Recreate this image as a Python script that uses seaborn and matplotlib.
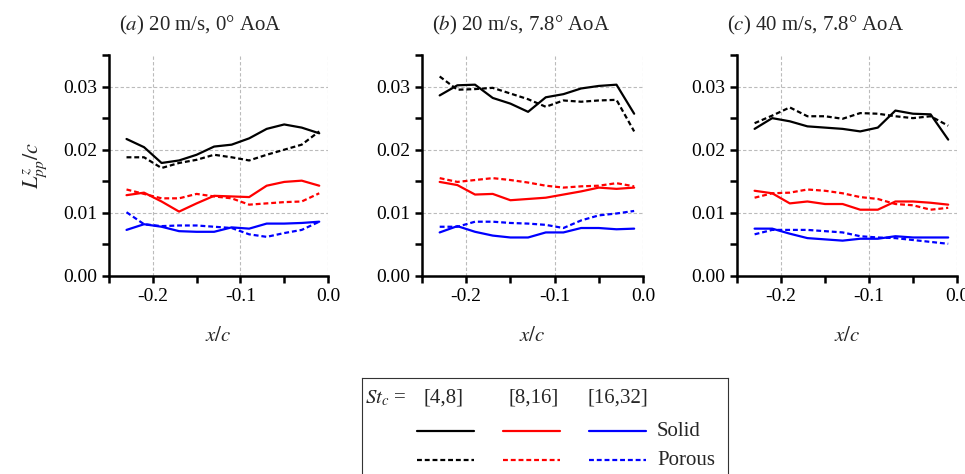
import numpy as np
import pandas as pd
import seaborn as sns
import matplotlib.pyplot as plt
from matplotlib.ticker import MultipleLocator, FormatStrFormatter

# streamwise positions (same for all cases)
x_c = [-0.23, -0.21, -0.19, -0.17, -0.15, -0.13, -0.11, -0.09, -0.07, -0.05, -0.03, -0.01]

bands = ['[4,8]', '[8,16]', '[16,32]']
titles = [r'($\it{a}$) 20 m/s, 0° AoA', r'($\it{b}$) 20 m/s, 7.8° AoA', r'($\it{c}$) 40 m/s, 7.8° AoA']

# (a) 20 m/s, 0 deg
a_solid_48 = [0.0217, 0.0204, 0.0179, 0.0183, 0.0192, 0.0205, 0.0208, 0.0218, 0.0233, 0.0240, 0.0235, 0.0226]
a_porous_48 = [0.0188, 0.0188, 0.0171, 0.0179, 0.0184, 0.0192, 0.0188, 0.0183, 0.0192, 0.0200, 0.0208, 0.0229]
a_solid_816 = [0.0128, 0.0132, 0.0118, 0.0102, 0.0115, 0.0127, 0.0126, 0.0125, 0.0143, 0.0149, 0.0151, 0.0143]
a_porous_816 = [0.0137, 0.0130, 0.0123, 0.0123, 0.0130, 0.0126, 0.0123, 0.0113, 0.0115, 0.0117, 0.0118, 0.0131]
a_solid_1632 = [0.0073, 0.0082, 0.0078, 0.0071, 0.0070, 0.0070, 0.0077, 0.0075, 0.0083, 0.0083, 0.0084, 0.0086]
a_porous_1632 = [0.0101, 0.0082, 0.0079, 0.0080, 0.0080, 0.0078, 0.0076, 0.0066, 0.0062, 0.0068, 0.0073, 0.0086]

# (b) 20 m/s, 7.8 deg
b_solid_48 = [0.0286, 0.0302, 0.0303, 0.0282, 0.0273, 0.0260, 0.0283, 0.0288, 0.0297, 0.0301, 0.0303, 0.0257]
b_porous_48 = [0.0316, 0.0295, 0.0296, 0.0298, 0.0289, 0.0280, 0.0268, 0.0278, 0.0276, 0.0278, 0.0279, 0.0229]
b_solid_816 = [0.0149, 0.0144, 0.0129, 0.0130, 0.0120, 0.0122, 0.0124, 0.0129, 0.0134, 0.0140, 0.0138, 0.0140]
b_porous_816 = [0.0155, 0.0149, 0.0152, 0.0155, 0.0152, 0.0148, 0.0143, 0.0140, 0.0142, 0.0143, 0.0147, 0.0142]
b_solid_1632 = [0.0069, 0.0079, 0.0070, 0.0064, 0.0061, 0.0061, 0.0069, 0.0069, 0.0076, 0.0076, 0.0074, 0.0075]
b_porous_1632 = [0.0078, 0.0078, 0.0086, 0.0086, 0.0084, 0.0083, 0.0081, 0.0076, 0.0088, 0.0096, 0.0099, 0.0103]

# (c) 40 m/s, 7.8 deg
c_solid_48 = [0.0233, 0.0250, 0.0245, 0.0237, 0.0235, 0.0233, 0.0229, 0.0235, 0.0262, 0.0257, 0.0256, 0.0216]
c_porous_48 = [0.0242, 0.0254, 0.0267, 0.0253, 0.0253, 0.0249, 0.0258, 0.0257, 0.0253, 0.0250, 0.0253, 0.0238]
c_solid_816 = [0.0135, 0.0131, 0.0115, 0.0118, 0.0114, 0.0114, 0.0105, 0.0105, 0.0118, 0.0118, 0.0116, 0.0113]
c_porous_816 = [0.0124, 0.0131, 0.0132, 0.0137, 0.0135, 0.0131, 0.0125, 0.0122, 0.0114, 0.0112, 0.0105, 0.0108]
c_solid_1632 = [0.0075, 0.0075, 0.0067, 0.0060, 0.0058, 0.0056, 0.0059, 0.0059, 0.0063, 0.0061, 0.0061, 0.0061]
c_porous_1632 = [0.0066, 0.0073, 0.0073, 0.0073, 0.0071, 0.0069, 0.0063, 0.0061, 0.0060, 0.0057, 0.0054, 0.0051]

cases = {
    'a': {('Solid', '[4,8]'): a_solid_48, ('Porous', '[4,8]'): a_porous_48,
          ('Solid', '[8,16]'): a_solid_816, ('Porous', '[8,16]'): a_porous_816,
          ('Solid', '[16,32]'): a_solid_1632, ('Porous', '[16,32]'): a_porous_1632},
    'b': {('Solid', '[4,8]'): b_solid_48, ('Porous', '[4,8]'): b_porous_48,
          ('Solid', '[8,16]'): b_solid_816, ('Porous', '[8,16]'): b_porous_816,
          ('Solid', '[16,32]'): b_solid_1632, ('Porous', '[16,32]'): b_porous_1632},
    'c': {('Solid', '[4,8]'): c_solid_48, ('Porous', '[4,8]'): c_porous_48,
          ('Solid', '[8,16]'): c_solid_816, ('Porous', '[8,16]'): c_porous_816,
          ('Solid', '[16,32]'): c_solid_1632, ('Porous', '[16,32]'): c_porous_1632},
}

# long table for seaborn
rows = []
for case, series in cases.items():
    for (surf, band), vals in series.items():
        for xv, yv in zip(x_c, vals):
            rows.append({'case': case, 'surface': surf, 'band': band, 'x': xv, 'L': yv})
df = pd.DataFrame(rows)

sns.set_style('ticks')
plt.rcParams['font.family'] = ['Liberation Serif', 'DejaVu Serif']
plt.rcParams['mathtext.fontset'] = 'stix'
plt.rcParams['font.size'] = 14
plt.rcParams['axes.unicode_minus'] = False

palette = {'[4,8]': 'black', '[8,16]': '#ff0000', '[16,32]': '#0000ff'}
dashes = {'Solid': '', 'Porous': (2.2, 1.3)}

fig = plt.figure(figsize=(9.65, 4.74), dpi=100)
lefts = [109, 422, 737]
widths = [219, 221, 220]
title_x = [0.415, 0.45, 0.355]
axes = []
for i, case in enumerate(['a', 'b', 'c']):
    ax = fig.add_axes([lefts[i] / 965, 1 - 276 / 474, widths[i] / 965, 221 / 474])
    sns.lineplot(data=df[df['case'] == case], x='x', y='L', hue='band', style='surface',
                 palette=palette, dashes=dashes, hue_order=bands, style_order=['Solid', 'Porous'],
                 linewidth=1.6, ax=ax, legend=False)
    ax.set_xlim(-0.25, 0.0)
    ax.set_ylim(0, 0.035)
    ax.xaxis.set_major_locator(MultipleLocator(0.1))
    ax.xaxis.set_minor_locator(MultipleLocator(0.05))
    ax.yaxis.set_major_locator(MultipleLocator(0.01))
    ax.yaxis.set_minor_locator(MultipleLocator(0.005))
    ax.xaxis.set_major_formatter(FormatStrFormatter('%.1f'))
    ax.yaxis.set_major_formatter(FormatStrFormatter('%.2f'))
    ax.grid(True, which='major', linestyle=(0, (3, 2)), color='#bbbbbb', linewidth=0.8)
    sns.despine(ax=ax)
    for s in ['left', 'bottom']:
        ax.spines[s].set_linewidth(1.8)
        ax.spines[s].set_color('black')
    ax.tick_params(which='major', length=5, width=1.8, color='black', labelcolor='black',
                   labelsize=14, direction='out')
    ax.tick_params(which='minor', length=5, width=1.8, color='black', direction='out')
    ax.set_xlabel(r'$x/c$', fontsize=15, labelpad=16)
    ax.set_ylabel('')
    ax.set_title(titles[i], fontsize=15, x=title_x[i], pad=18)
    axes.append(ax)

axes[0].set_ylabel(r'$L^{z}_{pp}/c$', fontsize=16, labelpad=10)

# legend box (drawn in pixel coordinates of a blank axes)
lax = fig.add_axes([362 / 965, -0.02, 366 / 965, 1 - 378 / 474 + 0.02])
lax.set_xlim(362, 728)
lax.set_ylim(483, 378)
lax.set_xticks([])
lax.set_yticks([])
for s in lax.spines.values():
    s.set_linewidth(0.8)
    s.set_color('#333333')
lax.text(365, 398, r'$St_c$ =', fontsize=15, va='center', ha='left')
band_cx = [444, 534, 618]
for b, cx in zip(bands, band_cx):
    lax.text(cx, 398, b, fontsize=15, va='center', ha='center')
line_x = [(417, 474), (503, 560), (589, 646)]
for b, (x0, x1) in zip(bands, line_x):
    lax.plot([x0, x1], [431, 431], color=palette[b], lw=1.6)
    lax.plot([x0, x1], [460, 460], color=palette[b], lw=1.6, dashes=(2.2, 1.3))
lax.text(657, 431, 'Solid', fontsize=15, va='center', ha='left')
lax.text(657, 460, 'Porous', fontsize=15, va='center', ha='left')

plt.savefig('out.png', dpi=100)
